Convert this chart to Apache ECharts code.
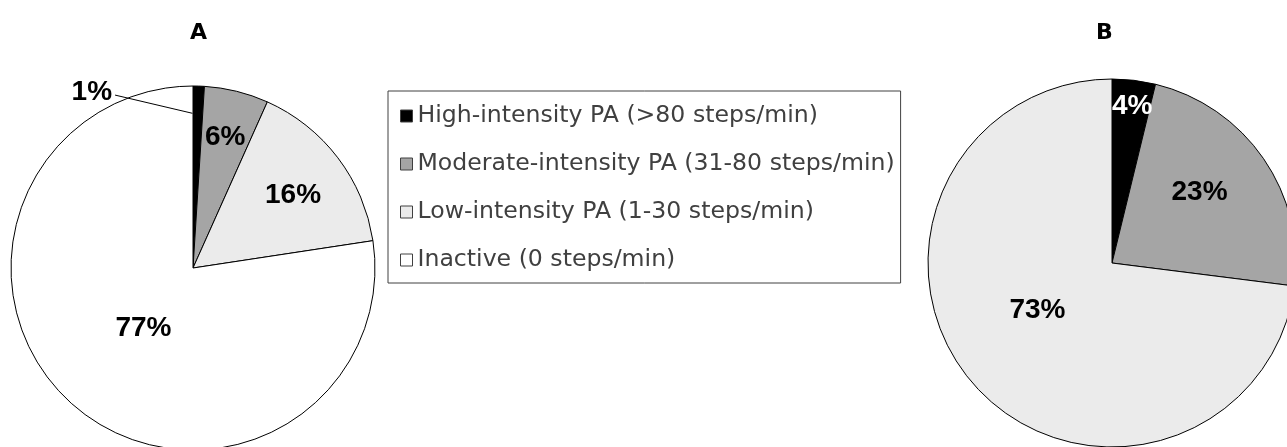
<!DOCTYPE html>
<html>
<head>
<meta charset="utf-8">
<script src="https://cdn.jsdelivr.net/npm/echarts@6/dist/echarts.min.js"></script>
<style>
  html, body { margin: 0; padding: 0; background: #fff; }
  #chart { width: 1287px; height: 447px; }
</style>
</head>
<body>
<div id="chart"></div>
<script>
// ---- data ----
const categories = [
  'High-intensity PA (>80 steps/min)',
  'Moderate-intensity PA (31-80 steps/min)',
  'Low-intensity PA (1-30 steps/min)',
  'Inactive (0 steps/min)'
];
const panelTitles = ['A', 'B'];
const valuesA = [1.0, 5.7, 15.9, 77.4];
const valuesB = [3.8, 23.2, 73.0, 0];

// ---- styles ----
const sliceColors = ['#000000', '#a5a5a5', '#ebebeb', '#ffffff'];
const labelColorsA = ['#000', '#000', '#000', '#000'];
const labelColorsB = ['#fff', '#000', '#000', '#000'];
// label placement: radius fraction, angle offset from slice mid-angle (deg)
const labelPosA = [
  { r: 1.115, da: -31.7, line: { r: 0.85, da: -2.0 } },
  { r: 0.74, da: 0 },
  { r: 0.68, da: 1.2 },
  { r: 0.43, da: -1.4 }
];
const labelPosB = [
  { r: 0.857, da: 0.5 },
  { r: 0.61, da: -4.2 },
  { r: 0.48, da: 9 },
  { r: 0.5, da: 0 }
];

const pies = [
  { values: valuesA, center: [193, 268], radius: 182, labelPos: labelPosA, labelColors: labelColorsA },
  { values: valuesB, center: [1112, 263], radius: 184, labelPos: labelPosB, labelColors: labelColorsB }
];

function midAngle(values, i) {
  const total = values.reduce((a, b) => a + b, 0);
  let cum = 0;
  for (let k = 0; k < i; k++) cum += values[k];
  return (cum + values[i] / 2) / total * 360;
}

const labelFont = 'Liberation Sans, Arial, sans-serif';
const titleFont = 'DejaVu Sans, sans-serif';

function makeLayout(pie) {
  return function (p) {
    const lp = pie.labelPos[p.dataIndex];
    if (!lp) return {};
    const cx = pie.center[0], cy = pie.center[1], R = pie.radius;
    const mid = midAngle(pie.values, p.dataIndex);
    const a = (mid + lp.da) * Math.PI / 180;
    const x = cx + lp.r * R * Math.sin(a);
    const y = cy - lp.r * R * Math.cos(a);
    const out = { x: x, y: y, align: 'center', verticalAlign: 'middle' };
    if (lp.line) {
      const la = (mid + lp.line.da) * Math.PI / 180;
      const lr = lp.line.r * R;
      const ex = x + p.labelRect.width / 2 + 3;
      out.labelLinePoints = [
        [cx + lr * Math.sin(la), cy - lr * Math.cos(la)],
        [ex, y + 3],
        [ex, y + 3]
      ];
    }
    return out;
  };
}

const baseLabel = {
  show: true,
  position: 'inside',
  fontFamily: labelFont,
  fontWeight: 'bold',
  fontSize: 28,
  formatter: p => Math.round(p.value) + '%'
};

// main pies: sectors + inside labels
function makeSeries(pie, idx) {
  return {
    type: 'pie',
    name: panelTitles[idx],
    center: pie.center,
    radius: pie.radius,
    startAngle: 90,
    clockwise: true,
    avoidLabelOverlap: false,
    animation: false,
    z: 2,
    emphasis: { disabled: true },
    itemStyle: { borderColor: '#000', borderWidth: 1 },
    label: baseLabel,
    labelLine: { show: false },
    data: categories.map((name, i) => {
      const v = pie.values[i];
      return {
        name: name,
        value: v,
        itemStyle: { color: sliceColors[i], borderWidth: v > 0 ? 1 : 0 },
        label: { show: v > 0 && !pie.labelPos[i].line, color: pie.labelColors[i] }
      };
    }),
    labelLayout: makeLayout(pie)
  };
}

// overlay (transparent sectors) carrying the outside labels with leader lines, drawn above the pie
function makeOverlay(pie, idx) {
  return {
    type: 'pie',
    name: panelTitles[idx] + '-callouts',
    center: pie.center,
    radius: pie.radius,
    startAngle: 90,
    clockwise: true,
    avoidLabelOverlap: false,
    animation: false,
    silent: true,
    legendHoverLink: false,
    z: 5,
    emphasis: { disabled: true },
    itemStyle: { color: 'rgba(0,0,0,0)', borderWidth: 0 },
    label: Object.assign({}, baseLabel, { position: 'outside' }),
    labelLine: { show: false },
    data: categories.map((name, i) => {
      const v = pie.values[i];
      const hasLine = !!pie.labelPos[i].line && v > 0;
      return {
        name: name,
        value: v,
        label: { show: hasLine, color: pie.labelColors[i] },
        labelLine: { show: hasLine, length: 10, length2: 10, lineStyle: { color: '#000', width: 1 } }
      };
    }),
    labelLayout: makeLayout(pie)
  };
}

const chart = echarts.init(document.getElementById('chart'), null, { renderer: 'canvas' });
chart.setOption({
  backgroundColor: '#ffffff',
  animation: false,
  title: [
    { text: panelTitles[0], left: 190, top: 22, padding: 0,
      textStyle: { fontFamily: titleFont, fontWeight: 'bold', fontSize: 22, color: '#000' } },
    { text: panelTitles[1], left: 1096, top: 22, padding: 0,
      textStyle: { fontFamily: titleFont, fontWeight: 'bold', fontSize: 22, color: '#000' } }
  ],
  legend: {
    orient: 'vertical',
    left: 388,
    top: 91,
    data: categories,
    icon: 'rect',
    itemWidth: 12,
    itemHeight: 12,
    itemGap: 24,
    padding: [13, 6, 11, 12],
    borderColor: '#404040',
    borderWidth: 1,
    selectedMode: false,
    itemStyle: { borderColor: '#404040', borderWidth: 1 },
    textStyle: { fontFamily: 'DejaVu Sans, sans-serif', fontSize: 23.6, color: '#404040' }
  },
  series: pies.map(makeSeries).concat([makeOverlay(pies[0], 0)])
});
</script>
</body>
</html>
